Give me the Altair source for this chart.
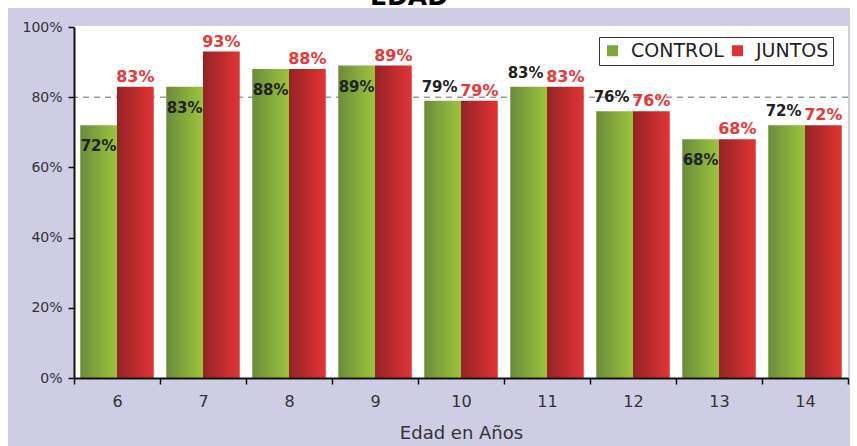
import altair as alt
import pandas as pd

# Asistencia escolar por edad: grupo de control frente a beneficiarios de JUNTOS
EDADES = ["6", "7", "8", "9", "10", "11", "12", "13", "14"]
GRUPOS = ["CONTROL", "JUNTOS"]
CONTROL = [72, 83, 88, 89, 79, 83, 76, 68, 72]
JUNTOS = [83, 93, 88, 89, 79, 83, 76, 68, 72]
# dónde va la etiqueta de cada barra de control
ETIQUETA_CONTROL = ["dentro", "dentro", "dentro", "dentro", "encima",
                    "encima", "encima", "dentro", "encima"]
REFERENCIA = [80]
TICKS_Y = [0, 20, 40, 60, 80, 100]

W, H = 774, 351
FONT = "DejaVu Sans"

filas = []
for i, e in enumerate(EDADES):
    filas.append({"edad": e, "grupo": "CONTROL", "valor": CONTROL[i],
                  "pos": ETIQUETA_CONTROL[i]})
    filas.append({"edad": e, "grupo": "JUNTOS", "valor": JUNTOS[i],
                  "pos": "encima"})
df = pd.DataFrame(filas)
df["etiqueta"] = df["valor"].astype(str) + "%"
ref_df = pd.DataFrame({"ref": REFERENCIA})
uno = pd.DataFrame({"k": [0]})

grad_verde = alt.Gradient(
    gradient="linear", x1=0, x2=1, y1=0, y2=0,
    stops=[alt.GradientStop(offset=0, color="#6C8C3B"),
           alt.GradientStop(offset=1, color="#9CC43C")])
grad_rojo = alt.Gradient(
    gradient="linear", x1=0, x2=1, y1=0, y2=0,
    stops=[alt.GradientStop(offset=0, color="#952326"),
           alt.GradientStop(offset=1, color="#E23434")])

x_enc = alt.X(
    "edad:N", sort=EDADES,
    scale=alt.Scale(paddingInner=0, paddingOuter=0),
    axis=alt.Axis(
        title="Edad en Años", labelAngle=0, tickBand="extent", zindex=2,
        domainColor="#111", domainWidth=2, tickColor="#111", tickWidth=1.5,
        tickSize=6, labelFont=FONT, labelFontSize=16, labelColor="#333",
        labelPadding=9, titleFont=FONT, titleFontSize=18,
        titleFontWeight="normal", titleColor="#333", titlePadding=15))
xo_enc = alt.XOffset("grupo:N", sort=GRUPOS,
                     scale=alt.Scale(paddingOuter=0.17, paddingInner=0))
y_enc = alt.Y(
    "valor:Q", scale=alt.Scale(domain=[0, 100], nice=False),
    axis=alt.Axis(
        title=None, values=TICKS_Y, labelExpr="datum.value + '%'", zindex=2,
        grid=False, domainColor="#111", domainWidth=2, tickColor="#111",
        tickWidth=1.5, tickSize=6, labelFont=FONT, labelFontSize=14,
        labelColor="#333", labelPadding=6))

# fondo lila del recuadro y área blanca del gráfico
panel = alt.Chart(uno).mark_rect(color="#CFCDE3").encode(
    x=alt.value(-66), x2=alt.value(W + 2), y=alt.value(-19), y2=alt.value(H + 80))
area = alt.Chart(uno).mark_rect(color="white").encode(
    x=alt.value(0), x2=alt.value(W), y=alt.value(-1), y2=alt.value(H))
titulo = alt.Chart(uno).mark_text(
    font=FONT, fontSize=25, fontWeight="bold", color="black",
    align="center", baseline="alphabetic").encode(
    x=alt.value(335), y=alt.value(-22), text=alt.value("EDAD"))

linea = alt.Chart(ref_df).mark_rule(
    color="#9A9A9A", strokeDash=[6, 5], strokeWidth=1.5).encode(y="ref:Q")

barras = alt.Chart(df).mark_bar().encode(
    x=x_enc, xOffset=xo_enc, y=y_enc,
    fill=alt.condition(alt.datum.grupo == "CONTROL",
                       alt.value(grad_verde), alt.value(grad_rojo)))

leyenda = alt.Chart(df).mark_square(opacity=0).encode(
    x=x_enc, xOffset=xo_enc, y=y_enc,
    color=alt.Color(
        "grupo:N", sort=GRUPOS,
        scale=alt.Scale(domain=GRUPOS, range=["#7FA83A", "#E03030"]),
        legend=alt.Legend(
            title=None, orient="none", legendX=525, legendY=10,
            direction="horizontal", symbolType="square", symbolSize=121,
            symbolOpacity=1, symbolStrokeWidth=0, labelFont=FONT,
            labelFontSize=19, labelColor="#222", labelOffset=9,
            columnPadding=4, padding=4, strokeColor="#333",
            fillColor="white")))

base_txt = alt.Chart(df).encode(x=x_enc, xOffset=xo_enc, y=y_enc,
                                text="etiqueta:N")
txt_rojo = base_txt.mark_text(
    font=FONT, fontSize=16, fontWeight="bold", color="#E8383A",
    baseline="alphabetic", dy=-5).transform_filter(alt.datum.grupo == "JUNTOS")
txt_verde_dentro = base_txt.mark_text(
    font=FONT, fontSize=15, fontWeight="bold", color="#222",
    baseline="alphabetic", dy=26).transform_filter(
    (alt.datum.grupo == "CONTROL") & (alt.datum.pos == "dentro"))
txt_verde_encima = base_txt.mark_text(
    font=FONT, fontSize=15, fontWeight="bold", color="#222",
    baseline="alphabetic", dy=-9, dx=-3).transform_filter(
    (alt.datum.grupo == "CONTROL") & (alt.datum.pos == "encima"))

chart = alt.layer(
    panel, area, titulo, linea, barras, leyenda,
    txt_rojo, txt_verde_dentro, txt_verde_encima
).properties(
    width=W, height=H,
    padding={"left": 74, "top": 27, "right": 9, "bottom": 68},
    autosize=alt.AutoSizeParams(type="none"),
    background="white",
).configure_view(stroke=None)

chart.save("out.html", embed_options={"renderer": "svg", "actions": False})
